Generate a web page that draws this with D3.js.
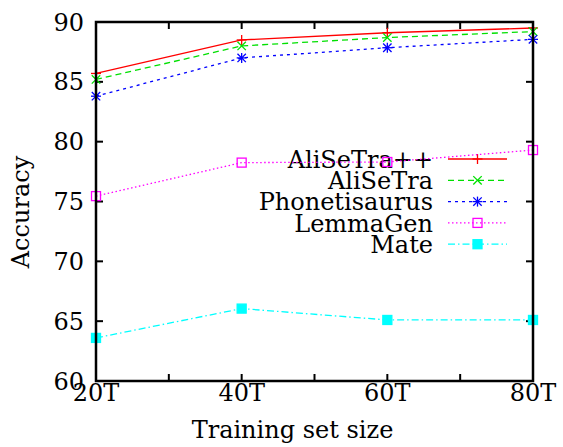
<!DOCTYPE html>
<html><head><meta charset="utf-8">
<script src="https://cdn.jsdelivr.net/npm/d3@7"></script>
<style>html,body{margin:0;padding:0;background:#fff}</style>
</head><body><svg id="c" width="563" height="447"></svg>
<script>
const sizes = [20, 40, 60, 80];
const xTickValues = [20, 30, 40, 50, 60, 70, 80];
const xTickLabels = {20: "20T", 40: "40T", 60: "60T", 80: "80T"};
const yTickValues = [60, 65, 70, 75, 80, 85, 90];
const seriesNames = ["AliSeTra++", "AliSeTra", "Phonetisaurus", "LemmaGen", "Mate"];
const aliSeTraPP = [85.7, 88.5, 89.1, 89.5];
const aliSeTra = [85.2, 88.0, 88.7, 89.2];
const phonetisaurus = [83.8, 87.0, 87.85, 88.55];
const lemmaGen = [75.45, 78.25, 78.3, 79.3];
const mate = [63.6, 66.05, 65.1, 65.1];

const values = [aliSeTraPP, aliSeTra, phonetisaurus, lemmaGen, mate];
const colors = ["#ff0000", "#00e000", "#0000ff", "#ff00ff", "#00ffff"];
const dashes = [null, "6,4", "3,4", "1.5,2.5", "7,3,1.5,3"];
const markers = ["plus", "cross", "star", "square", "fsquare"];

const svg = d3.select("#c");
const font = "'DejaVu Serif', serif";
const fs = 24;
const L = 96, R = 533, T = 22, B = 381;
const x = d3.scaleLinear().domain([20, 80]).range([L, R]);
const y = d3.scaleLinear().domain([60, 90]).range([B, T]);

const tl = 7;
const axes = svg.append("g").attr("stroke", "#000").attr("stroke-width", 2);
xTickValues.forEach(v => {
  axes.append("line").attr("x1", x(v)).attr("x2", x(v)).attr("y1", B).attr("y2", B - tl);
  axes.append("line").attr("x1", x(v)).attr("x2", x(v)).attr("y1", T).attr("y2", T + tl);
});
yTickValues.forEach(v => {
  axes.append("line").attr("x1", L).attr("x2", L + tl).attr("y1", y(v)).attr("y2", y(v));
  axes.append("line").attr("x1", R).attr("x2", R - tl).attr("y1", y(v)).attr("y2", y(v));
});

const txt = svg.append("g").style("font-family", font).attr("font-size", fs).attr("fill", "#000");
sizes.forEach(v => {
  txt.append("text").attr("x", x(v)).attr("y", 401).attr("text-anchor", "middle").text(xTickLabels[v]);
});
yTickValues.forEach(v => {
  txt.append("text").attr("x", 84).attr("y", y(v)).attr("dy", "0.36em").attr("text-anchor", "end").text(String(v));
});
txt.append("text").attr("x", (L + R) / 2 - 22).attr("y", 438).attr("text-anchor", "middle").text("Training set size");
txt.append("text").attr("transform", "translate(29," + 212 + ") rotate(-90)").attr("text-anchor", "middle").text("Accuracy");

function marker(g, type, cx, cy, color) {
  const s = 5;
  const m = g.append("g").attr("stroke", color).attr("stroke-width", 1.3).attr("fill", "none");
  if (type === "plus" || type === "star") {
    m.append("line").attr("x1", cx - s).attr("x2", cx + s).attr("y1", cy).attr("y2", cy);
    m.append("line").attr("x1", cx).attr("x2", cx).attr("y1", cy - s).attr("y2", cy + s);
  }
  if (type === "cross" || type === "star") {
    const d = 4.2;
    m.append("line").attr("x1", cx - d).attr("x2", cx + d).attr("y1", cy - d).attr("y2", cy + d);
    m.append("line").attr("x1", cx - d).attr("x2", cx + d).attr("y1", cy + d).attr("y2", cy - d);
  }
  if (type === "square") {
    m.append("rect").attr("x", cx - 4.5).attr("y", cy - 4.5).attr("width", 9).attr("height", 9);
  }
  if (type === "fsquare") {
    m.append("rect").attr("x", cx - 4.5).attr("y", cy - 4.5).attr("width", 9).attr("height", 9).attr("fill", color);
  }
}

const line = d3.line().x((d, i) => x(sizes[i])).y(d => y(d));
const legY0 = 159, legDy = 21.3, legX1 = 448, legX2 = 507, legTextX = 433;

seriesNames.forEach((name, k) => {
  const g = svg.append("g");
  const ly = legY0 + k * legDy;
  g.append("text").attr("x", legTextX).attr("y", ly).attr("dy", "0.36em").attr("text-anchor", "end")
    .style("font-family", font).attr("font-size", fs).text(name);
  const sample = g.append("line").attr("x1", legX1).attr("x2", legX2).attr("y1", ly).attr("y2", ly)
    .attr("stroke", colors[k]).attr("stroke-width", 1.3);
  if (dashes[k]) sample.attr("stroke-dasharray", dashes[k]);
  marker(g, markers[k], (legX1 + legX2) / 2, ly, colors[k]);

  const p = g.append("path").datum(values[k]).attr("d", line).attr("fill", "none")
    .attr("stroke", colors[k]).attr("stroke-width", 1.3);
  if (dashes[k]) p.attr("stroke-dasharray", dashes[k]);
  values[k].forEach((v, i) => marker(g, markers[k], x(sizes[i]), y(v), colors[k]));
});

svg.append("rect").attr("x", L).attr("y", T).attr("width", R - L).attr("height", B - T)
  .attr("fill", "none").attr("stroke", "#000").attr("stroke-width", 2.5);
</script></body></html>
